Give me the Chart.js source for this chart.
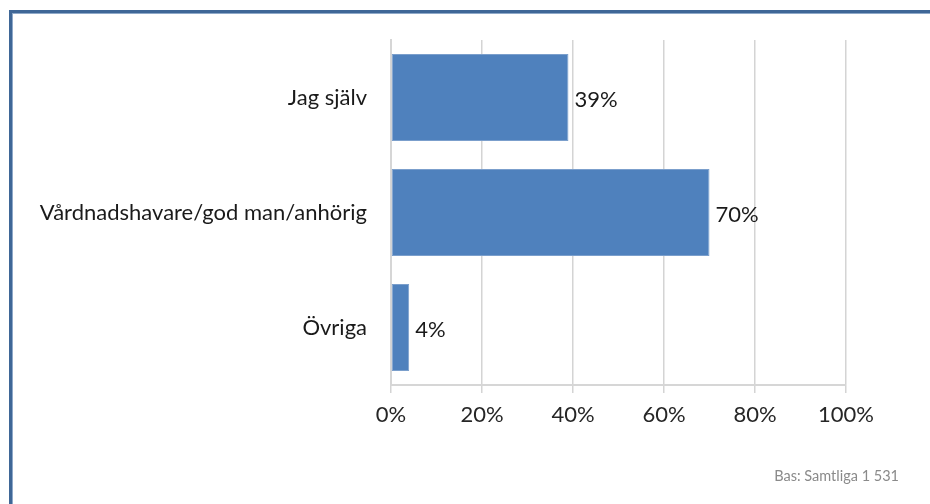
<!DOCTYPE html>
<html lang="sv">
<head>
    <meta charset="UTF-8">
    <title>Bas: Samtliga 1 531</title>
    <script src="https://cdn.jsdelivr.net/npm/chart.js"></script>
    <style>
        body {
            margin: 0;
            background: #ffffff;
        }
        #wrap {
            width: 930px;
            height: 504px;
        }
    </style>
</head>
<body>
    <div id="wrap">
        <canvas id="barChart" width="930" height="504"></canvas>
    </div>

    <script>
        // Data
        const categories = ['Jag själv', 'Vårdnadshavare/god man/anhörig', 'Övriga'];
        const shares = [39, 70, 4];
        const tickValues = [0, 20, 40, 60, 80, 100];
        const footnote = 'Bas: Samtliga 1 531';

        const fontFamily = 'Lato, "Open Sans", sans-serif';

        // Frame and footnote
        const framePlugin = {
            id: 'frame',
            beforeDraw(chart) {
                const ctx = chart.ctx;
                ctx.save();
                ctx.fillStyle = '#3f6797';
                ctx.fillRect(9, 10, 921, 3);
                ctx.fillRect(9, 10, 3, 494);
                ctx.fillStyle = '#8fa9c9';
                ctx.fillRect(12, 13, 918, 1);
                ctx.fillRect(12, 13, 1, 491);
                ctx.restore();
            },
            afterDraw(chart) {
                const ctx = chart.ctx;
                ctx.save();
                ctx.font = '14.5px ' + fontFamily;
                ctx.fillStyle = '#8a8a8a';
                ctx.textAlign = 'right';
                ctx.textBaseline = 'alphabetic';
                ctx.fillText(footnote, 899, 481);
                ctx.restore();
            }
        };

        // Value labels to the right of each bar
        const valueLabels = {
            id: 'valueLabels',
            afterDatasetsDraw(chart) {
                const ctx = chart.ctx;
                const meta = chart.getDatasetMeta(0);
                ctx.save();
                ctx.font = '22px ' + fontFamily;
                ctx.fillStyle = '#1a1a1a';
                ctx.textAlign = 'left';
                ctx.textBaseline = 'middle';
                meta.data.forEach((bar, i) => {
                    ctx.fillText(shares[i] + '%', bar.x + 6, bar.y + 2);
                });
                ctx.restore();
            }
        };

        new Chart(document.getElementById('barChart'), {
            type: 'bar',
            data: {
                labels: categories,
                datasets: [{
                    data: shares,
                    backgroundColor: '#4f81bd',
                    borderColor: '#7b9fcc',
                    borderWidth: 1,
                    borderSkipped: false,
                    categoryPercentage: 1,
                    barPercentage: 0.757
                }]
            },
            options: {
                indexAxis: 'y',
                responsive: false,
                animation: false,
                layout: {
                    padding: { top: 40, right: 84, bottom: 0, left: 0 }
                },
                plugins: {
                    legend: { display: false },
                    tooltip: { enabled: false }
                },
                scales: {
                    x: {
                        min: 0,
                        max: 100,
                        afterBuildTicks(scale) {
                            scale.ticks = tickValues.map(v => ({ value: v }));
                        },
                        afterFit(scale) {
                            scale.height = 119;
                        },
                        grid: {
                            color: '#d4d4d4',
                            lineWidth: 1.5,
                            tickLength: 8
                        },
                        border: {
                            color: '#d6d6d6',
                            width: 2
                        },
                        ticks: {
                            padding: 9,
                            color: '#262626',
                            font: { family: fontFamily, size: 22 },
                            maxRotation: 0,
                            callback: v => v + '%'
                        }
                    },
                    y: {
                        afterFit(scale) {
                            scale.width = 391;
                        },
                        grid: { display: false, drawTicks: false },
                        border: {
                            color: '#d6d6d6',
                            width: 2
                        },
                        ticks: {
                            padding: 24,
                            color: '#1a1a1a',
                            font: { family: fontFamily, size: 22 }
                        }
                    }
                }
            },
            plugins: [framePlugin, valueLabels]
        });
    </script>
</body>
</html>
